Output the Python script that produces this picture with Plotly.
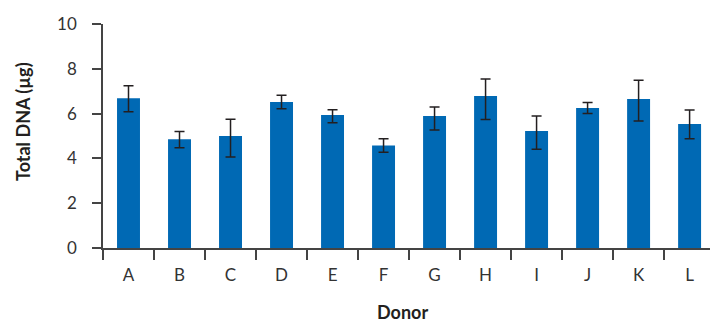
import plotly.graph_objects as go

donors = ["A", "B", "C", "D", "E", "F", "G", "H", "I", "J", "K", "L"]
total_dna = [6.68, 4.85, 5.00, 6.52, 5.94, 4.58, 5.89, 6.79, 5.22, 6.25, 6.65, 5.54]
err_plus = [0.56, 0.35, 0.75, 0.30, 0.23, 0.30, 0.40, 0.76, 0.67, 0.24, 0.84, 0.62]
err_minus = [0.60, 0.38, 0.94, 0.30, 0.35, 0.31, 0.62, 1.05, 0.81, 0.24, 0.98, 0.66]

fig = go.Figure()
fig.add_trace(go.Bar(
    x=donors, y=total_dna,
    width=0.45,
    marker=dict(color="#0069b4", line=dict(width=0)),
    error_y=dict(type="data", symmetric=False, array=err_plus, arrayminus=err_minus,
                 color="#231f20", thickness=1.5, width=5),
))

font_family = "Lato, 'DejaVu Sans', sans-serif"
fig.update_layout(
    width=710, height=322,
    margin=dict(l=103, r=0, t=24, b=74, autoexpand=False),
    plot_bgcolor="white", paper_bgcolor="white",
    showlegend=False,
    font=dict(family=font_family, size=17, color="#333333"),
    xaxis=dict(
        type="category", range=[-0.5, 11.4],
        showline=True, linecolor="#444444", linewidth=1.5,
        ticks="outside", tickson="boundaries", ticklen=10, tickwidth=1.5, tickcolor="#444444",
        showgrid=False, zeroline=False, automargin=False,
        tickfont=dict(size=17, color="#333333"),
        ticklabelstandoff=11,
    ),
    yaxis=dict(
        range=[0, 10], tickvals=[0, 2, 4, 6, 8, 10],
        showline=True, linecolor="#444444", linewidth=1.5,
        ticks="outside", ticklen=9, tickwidth=1.5, tickcolor="#444444",
        showgrid=False, zeroline=False, automargin=False,
        tickfont=dict(size=17, color="#333333"),
        ticklabelstandoff=12,
    ),
    annotations=[
        dict(text="<b>Total DNA (µg)</b>", xref="paper", yref="paper",
             x=(23 - 103) / 607, y=(248 - 122) / 224, xanchor="center", yanchor="middle",
             textangle=-90, showarrow=False,
             font=dict(size=18, color="#231f20", family=font_family)),
        dict(text="<b>Donor</b>", xref="paper", yref="paper",
             x=(402 - 103) / 607, y=(248 - 312) / 224, xanchor="center", yanchor="middle",
             showarrow=False,
             font=dict(size=18, color="#231f20", family=font_family)),
    ],
)

fig.write_html("out.html", config={"displayModeBar": False})

# remove default browser page margin so the figure sits at the window's top-left
with open("out.html", "r", encoding="utf-8") as f:
    html = f.read()
html = html.replace("<body>", "<body style=\"margin:0;padding:0;overflow:hidden\">", 1)
with open("out.html", "w", encoding="utf-8") as f:
    f.write(html)
